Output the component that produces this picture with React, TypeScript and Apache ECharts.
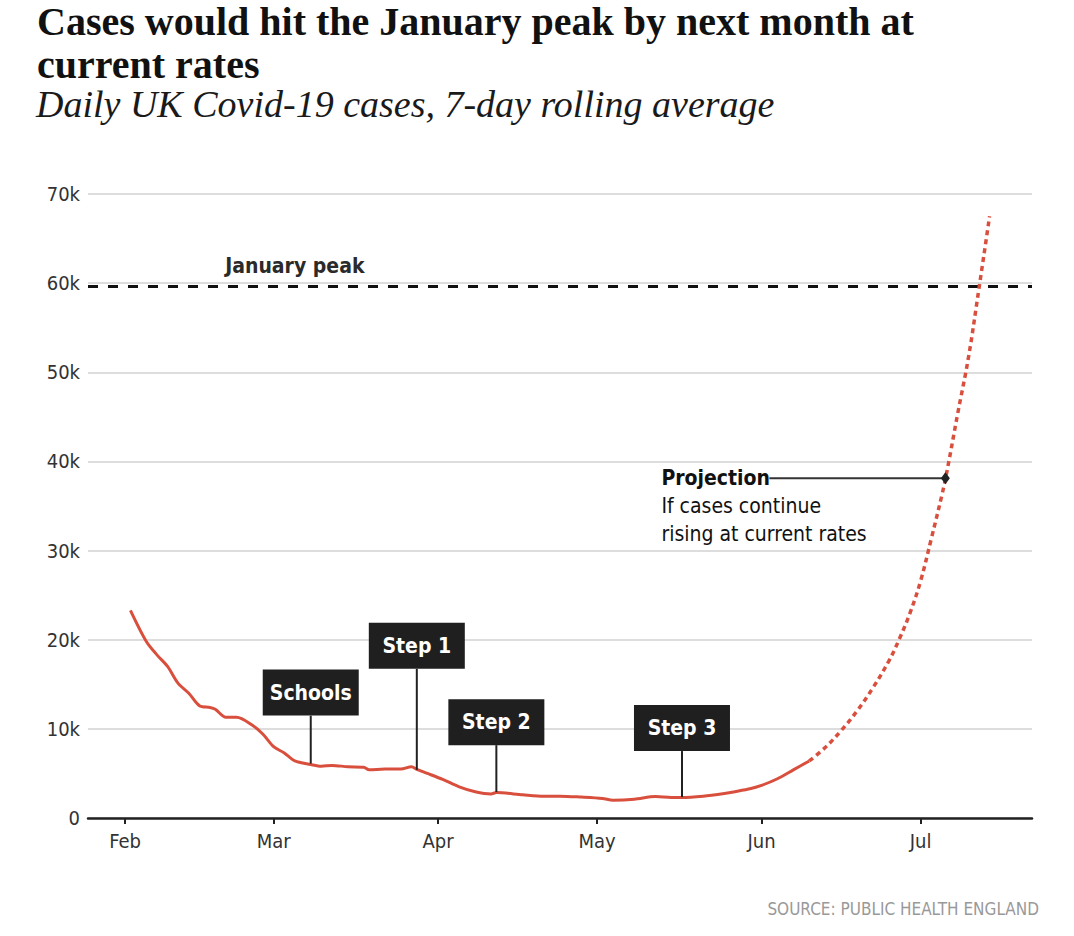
import React, { useEffect, useRef } from 'react';
import * as echarts from 'echarts';

// ---- Data ----
const monthLabels = ['Jan', 'Feb', 'Mar', 'Apr', 'May', 'Jun', 'Jul', 'Aug', 'Sep', 'Oct', 'Nov', 'Dec'];

const actualDates = [
  '2021-02-02', '2021-02-05', '2021-02-07', '2021-02-09', '2021-02-11', '2021-02-13', '2021-02-15',
  '2021-02-17', '2021-02-18', '2021-02-20', '2021-02-22', '2021-02-25', '2021-02-27', '2021-03-01',
  '2021-03-03', '2021-03-05', '2021-03-08', '2021-03-10', '2021-03-12', '2021-03-15', '2021-03-18',
  '2021-03-19', '2021-03-22', '2021-03-25', '2021-03-27', '2021-03-28', '2021-03-30', '2021-04-02',
  '2021-04-05', '2021-04-08', '2021-04-11', '2021-04-12', '2021-04-17', '2021-04-21', '2021-04-24',
  '2021-04-28', '2021-05-02', '2021-05-04', '2021-05-08', '2021-05-12', '2021-05-15', '2021-05-17',
  '2021-05-21', '2021-05-25', '2021-05-27', '2021-05-30', '2021-06-01', '2021-06-04', '2021-06-07',
  '2021-06-10',
];
const actualCases = [
  23300, 19800, 18300, 17000, 15100, 14000, 12600,
  12400, 12200, 11300, 11300, 10400, 9400, 8000,
  7300, 6400, 6000, 5800, 5900, 5750, 5700,
  5400, 5500, 5500, 5750, 5450, 5000, 4300,
  3500, 2950, 2700, 2850, 2600, 2450, 2450,
  2350, 2200, 2000, 2100, 2400, 2300, 2300,
  2450, 2750, 2950, 3300, 3650, 4400, 5400,
  6400,
];

const projectionDates = [
  '2021-06-10', '2021-06-13', '2021-06-16', '2021-06-19', '2021-06-22', '2021-06-25', '2021-06-27',
  '2021-06-29', '2021-07-01', '2021-07-03', '2021-07-05', '2021-07-06', '2021-07-08', '2021-07-10',
  '2021-07-12', '2021-07-14',
];
const projectionCases = [
  6400, 7900, 9800, 12000, 14600, 17600, 20100,
  23000, 26600, 31300, 36200, 39000, 45400, 51600,
  59400, 67500,
];

const januaryPeak = 59700;

const eventLabels = ['Schools', 'Step 1', 'Step 2', 'Step 3'];
const eventDates = ['2021-03-08', '2021-03-28', '2021-04-12', '2021-05-17'];
const eventCases = [6100, 5400, 2900, 2350];

const projectionNoteDate = '2021-07-05 16:00';
const projectionNoteCases = 38100;

// ---- Layout / style constants ----
const eventStemLengths = [48, 101, 47, 46];
const peakLabelDate = '2021-03-05';

const SANS = '"Liberation Sans Narrow", "DejaVu Sans Condensed", "Roboto Condensed", Roboto, "Noto Sans", sans-serif';
const SERIF = '"Liberation Serif", "DejaVu Serif", serif';
const RED = '#d94f3d';

export default function App() {
  const ref = useRef<HTMLDivElement>(null);

  useEffect(() => {
    document.body.style.margin = '0';
    const chart = echarts.init(ref.current as HTMLDivElement, null, { renderer: 'svg' });

    const option: any = {
      animation: false,
      backgroundColor: '#ffffff',
      title: [
        {
          left: 37,
          top: 0,
          padding: 0,
          text: 'Cases would hit the January peak by next month at\ncurrent rates',
          textStyle: { fontFamily: SERIF, fontWeight: 'bold', fontSize: 40, lineHeight: 43, color: '#111111' },
        },
        {
          left: 36,
          top: 84,
          padding: 0,
          text: 'Daily UK Covid-19 cases, 7-day rolling average',
          textStyle: { fontFamily: SERIF, fontStyle: 'italic', fontWeight: 'normal', fontSize: 38, lineHeight: 40, color: '#1a1a1a' },
        },
        {
          right: 35,
          top: 900,
          padding: 0,
          text: 'SOURCE: PUBLIC HEALTH ENGLAND',
          textStyle: { fontFamily: SANS, fontWeight: 'normal', fontSize: 17, color: '#999999' },
        },
      ],
      grid: { left: 88, right: 42, top: 194, bottom: 118, containLabel: false },
      xAxis: {
        type: 'time',
        min: '2021-01-25',
        max: '2021-07-22',
        splitNumber: 6,
        minInterval: 28 * 24 * 3600 * 1000,
        axisLine: { show: true, lineStyle: { color: '#222222', width: 2.5 } },
        axisTick: { show: true, length: 6, lineStyle: { color: '#222222', width: 2 } },
        splitLine: { show: false },
        axisLabel: {
          color: '#333333',
          fontFamily: SANS,
          fontSize: 20,
          margin: 13,
          showMinLabel: false,
          showMaxLabel: false,
          formatter: (v: number) => monthLabels[new Date(v).getMonth()],
        },
      },
      yAxis: {
        type: 'value',
        min: 0,
        max: 70000,
        interval: 10000,
        axisLine: { show: false },
        axisTick: { show: false },
        splitLine: { show: true, lineStyle: { color: '#dddddd', width: 2 } },
        axisLabel: {
          color: '#333333',
          fontFamily: SANS,
          fontSize: 20,
          margin: 8,
          formatter: (v: number) => (v === 0 ? '0' : `${v / 1000}k`),
        },
      },
      series: [
        {
          name: 'Cases',
          type: 'line',
          data: actualDates.map((d, i) => [d, actualCases[i]]),
          showSymbol: false,
          symbol: 'none',
          smooth: 0.3,
          lineStyle: { color: RED, width: 3 },
          z: 3,
          markLine: {
            silent: true,
            symbol: 'none',
            label: { show: false },
            lineStyle: { type: [10, 10], color: '#111111', width: 3 },
            data: [{ yAxis: januaryPeak }],
            z: 2,
          },
        },
        {
          name: 'Projection',
          type: 'line',
          data: projectionDates.map((d, i) => [d, projectionCases[i]]),
          showSymbol: false,
          symbol: 'none',
          smooth: 0.4,
          lineStyle: { color: RED, width: 3.5, type: [5, 4] },
          z: 3,
        },
        {
          name: 'Events',
          type: 'custom',
          z: 5,
          data: eventDates.map((d, i) => [d, eventCases[i], i]),
          renderItem: (params: any, api: any) => {
            const i = api.value(2);
            const p = api.coord([api.value(0), api.value(1)]);
            const stem = eventStemLengths[i];
            const w = 96;
            const h = 46;
            return {
              type: 'group',
              children: [
                {
                  type: 'line',
                  shape: { x1: p[0], y1: p[1], x2: p[0], y2: p[1] - stem },
                  style: { stroke: '#222222', lineWidth: 2 },
                },
                {
                  type: 'rect',
                  shape: { x: p[0] - w / 2, y: p[1] - stem - h, width: w, height: h },
                  style: { fill: '#1f1f1f' },
                },
                {
                  type: 'text',
                  x: p[0],
                  y: p[1] - stem - h / 2,
                  style: {
                    text: eventLabels[i],
                    fill: '#ffffff',
                    font: `bold 21px ${SANS}`,
                    align: 'center',
                    verticalAlign: 'middle',
                  },
                },
              ],
            };
          },
        },
        {
          name: 'Peak label',
          type: 'custom',
          z: 5,
          data: [[peakLabelDate, januaryPeak]],
          renderItem: (params: any, api: any) => {
            const p = api.coord([api.value(0), api.value(1)]);
            return {
              type: 'text',
              x: p[0],
              y: p[1] - 9,
              style: {
                text: 'January peak',
                fill: '#2a2a2a',
                font: `bold 21px ${SANS}`,
                align: 'center',
                verticalAlign: 'bottom',
              },
            };
          },
        },
        {
          name: 'Projection note',
          type: 'custom',
          z: 6,
          data: [[projectionNoteDate, projectionNoteCases]],
          renderItem: (params: any, api: any) => {
            const p = api.coord([api.value(0), api.value(1)]);
            const tx = p[0] - 284;
            return {
              type: 'group',
              children: [
                {
                  type: 'line',
                  shape: { x1: tx + 108, y1: p[1], x2: p[0], y2: p[1] },
                  style: { stroke: '#333333', lineWidth: 2 },
                },
                {
                  type: 'polygon',
                  shape: { points: [[p[0], p[1] - 6], [p[0] + 4.5, p[1]], [p[0], p[1] + 6], [p[0] - 4.5, p[1]]] },
                  style: { fill: '#222222' },
                },
                {
                  type: 'text',
                  x: tx,
                  y: p[1],
                  style: { text: 'Projection', fill: '#111111', font: `bold 21px ${SANS}`, align: 'left', verticalAlign: 'middle' },
                },
                {
                  type: 'text',
                  x: tx,
                  y: p[1] + 28,
                  style: { text: 'If cases continue', fill: '#111111', font: `21px ${SANS}`, align: 'left', verticalAlign: 'middle' },
                },
                {
                  type: 'text',
                  x: tx,
                  y: p[1] + 56,
                  style: { text: 'rising at current rates', fill: '#111111', font: `21px ${SANS}`, align: 'left', verticalAlign: 'middle' },
                },
              ],
            };
          },
        },
      ],
    };

    chart.setOption(option);
    return () => chart.dispose();
  }, []);

  return <div ref={ref} style={{ width: 1074, height: 936 }} />;
}
